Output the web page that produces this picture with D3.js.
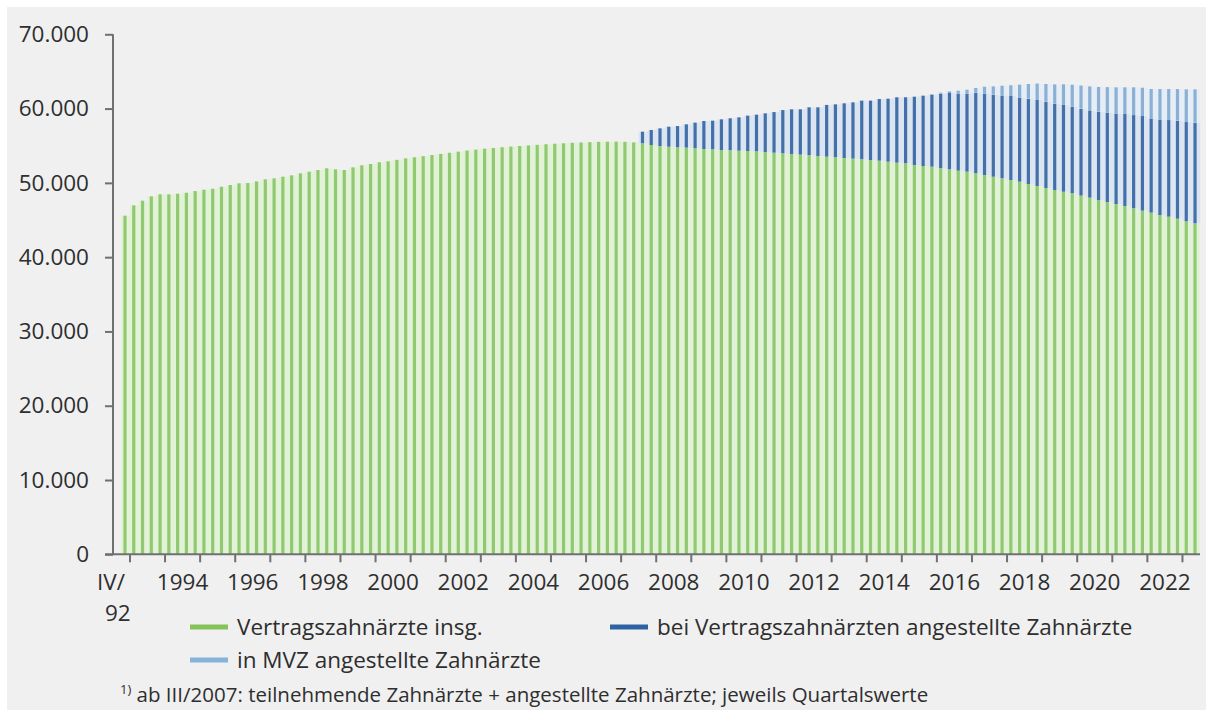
<!DOCTYPE html>
<html>
<head>
<meta charset="utf-8">
<script src="https://cdn.jsdelivr.net/npm/d3@7"></script>
<style>
  body { margin: 0; background: #fff; }
  svg text { font-family: "Open Sans", sans-serif; fill: #2e2e2e; }
</style>
</head>
<body>
<div id="chart"></div>
<script>
// Quartalswerte IV/1992 bis II/2023
var vertragszahnaerzte = [
  45580, 46980, 47600, 48190, 48460, 48460, 48540, 48670, 48900, 49080, 49210, 49480, 49710, 49940, 49980, 50200,
  50470, 50610, 50830, 51010, 51280, 51500, 51730, 51960, 51820, 51730, 52090, 52360, 52540, 52770, 52900,
  53100, 53300, 53450, 53600, 53750, 53900, 54050, 54200, 54350, 54480, 54600, 54700, 54800, 54880, 54960, 55040,
  55120, 55200, 55270, 55330, 55390, 55440, 55480, 55520, 55540, 55550, 55530, 55450,
  55320, 55100, 54960, 54870, 54780, 54740, 54650, 54560, 54510, 54420, 54380, 54330, 54290, 54240, 54150, 54060,
  53970, 53890, 53800, 53710, 53620, 53530, 53440, 53350, 53260, 53170, 53080, 52990, 52850, 52720,
  52630, 52400, 52270, 52180, 51960, 51820, 51640, 51510, 51280, 51060, 50830, 50610, 50390, 50160, 49850, 49580,
  49310, 49040, 48810, 48590, 48280, 48010, 47690, 47420, 47150, 46890, 46570, 46260, 45990, 45670, 45450, 45180,
  44820, 44550
];
// ab III/2007
var praxisAngestellte = [
  1570, 2020, 2380, 2690, 2870, 3140, 3460, 3770, 3860, 4130, 4310, 4490, 4760, 4940, 5210, 5470,
  5830, 6010, 6100, 6460, 6550, 6960, 7130, 7360, 7580, 7900, 7990, 8300, 8480, 8800,
  8890, 9200, 9470, 9690, 10050, 10280, 10410, 10540, 10860, 10990, 11040, 11170, 11310, 11350, 11490, 11580,
  11620, 11650, 11680, 11700, 11720, 11760, 11890, 12070, 12210, 12380, 12560, 12740, 12700, 12880, 13010, 13190,
  13370, 13550
];
// ab III/2015
var mvzAngestellte = [
  50, 90, 140, 220, 360, 490, 630, 900, 1120, 1300, 1440, 1710, 1970, 2200, 2380, 2560,
  2780, 2920, 3100, 3220, 3330, 3400, 3500, 3590, 3730, 3810, 3950, 4080, 4170, 4260, 4400, 4490
];
var yTicks = [0, 10000, 20000, 30000, 40000, 50000, 60000, 70000];
var yearLabels = [1994, 1996, 1998, 2000, 2002, 2004, 2006, 2008, 2010, 2012, 2014, 2016, 2018, 2020, 2022];
var legendLabels = ["Vertragszahnärzte insg.", "bei Vertragszahnärzten angestellte Zahnärzte", "in MVZ angestellte Zahnärzte"];

var roman = ["I", "II", "III", "IV"];
var quarters = ["IV/1992"];
for (var yr = 1993; quarters.length < vertragszahnaerzte.length; yr++) {
  for (var q = 0; q < 4 && quarters.length < vertragszahnaerzte.length; q++) quarters.push(roman[q] + "/" + yr);
}
var startPraxis = quarters.indexOf("III/2007");
var startMvz = quarters.indexOf("III/2015");

var data = quarters.map(function(k, i) {
  return {
    q: k,
    green: vertragszahnaerzte[i],
    dark: i >= startPraxis ? praxisAngestellte[i - startPraxis] : 0,
    light: i >= startMvz ? mvzAngestellte[i - startMvz] : 0
  };
});

var keys = ["green", "dark", "light"];
var stripeCol = { green: "#90c972", dark: "#4470aa", light: "#8cb0d3" };
var paleCol = { green: "#e2f2d6", dark: "#dbe5f1", light: "#e5edf6" };
var legendCol = ["#84c35b", "#2f62a3", "#86b3da"];

var width = 1206, height = 710;
var svg = d3.select("#chart").append("svg")
    .attr("width", width)
    .attr("height", height);

svg.append("rect").attr("x", 7).attr("y", 7).attr("width", width - 7).attr("height", height - 7)
    .attr("fill", "#f0f0f0");

var x = d3.scaleBand().domain(quarters).range([121.2, 1200]).padding(0);
var y = d3.scaleLinear().domain([0, 70000]).range([554.3, 34.3]);

var stack = d3.stack().keys(keys)(data);

var layers = svg.selectAll(".layer")
  .data(stack)
  .enter().append("g")
    .attr("class", "layer");

// heller Hintergrund je Quartal
layers.selectAll(".pale")
  .data(function(d) { return d.map(function(p) { p.key = d.key; return p; }); })
  .enter().append("rect")
    .attr("x", function(d) { return x(d.data.q); })
    .attr("width", x.bandwidth() + 0.2)
    .attr("y", function(d) { return y(d[1]); })
    .attr("height", function(d) { return Math.max(0, y(d[0]) - y(d[1])); })
    .attr("fill", function(d) { return paleCol[d.key]; });

// Balkenstreifen
layers.selectAll(".stripe")
  .data(function(d) { return d; })
  .enter().append("rect")
    .attr("x", function(d) { return x(d.data.q) + 2.2; })
    .attr("width", 3.2)
    .attr("y", function(d) { return y(d[1]); })
    .attr("height", function(d) { return Math.max(0, y(d[0]) - y(d[1])); })
    .attr("fill", function(d) { return stripeCol[d.key]; });

// y-Achse
var de = d3.formatLocale({ decimal: ",", thousands: ".", grouping: [3], currency: ["", " €"] });
var yAxis = svg.append("g")
    .attr("transform", "translate(113,0)")
    .call(d3.axisLeft(y).tickValues(yTicks).tickSize(8).tickPadding(16).tickFormat(de.format(",")));
yAxis.select(".domain").remove();
yAxis.append("line").attr("x1", 0).attr("x2", 0).attr("y1", y(70000)).attr("y2", y(0))
    .attr("stroke", "#707070").attr("stroke-width", 2);
yAxis.selectAll(".tick line").attr("stroke", "#707070").attr("stroke-width", 2);
yAxis.selectAll(".tick text").attr("font-size", 22.5).style("fill", "#2e2e2e");

// x-Achse
var xAxis = svg.append("g");
xAxis.append("line").attr("x1", 105).attr("x2", 1200).attr("y1", y(0)).attr("y2", y(0))
    .attr("stroke", "#707070").attr("stroke-width", 2);
var yearStarts = quarters.filter(function(k) { return k.indexOf("I/") === 0; });
xAxis.selectAll(".xt")
  .data(yearStarts)
  .enter().append("line")
    .attr("x1", function(d) { return x(d); })
    .attr("x2", function(d) { return x(d); })
    .attr("y1", y(0))
    .attr("y2", y(0) + 8)
    .attr("stroke", "#707070").attr("stroke-width", 2);
xAxis.selectAll(".xl")
  .data(yearLabels)
  .enter().append("text")
    .attr("x", function(d) { return x("I/" + d) + 2 * x.step(); })
    .attr("y", 590)
    .attr("text-anchor", "middle")
    .attr("font-size", 22.5)
    .text(function(d) { return d; });
xAxis.append("text").attr("x", 97).attr("y", 590).attr("font-size", 22.5).text("IV/");
xAxis.append("text").attr("x", 105).attr("y", 621).attr("font-size", 22.5).text("92");

// Legende
var legendPos = [[190, 627], [610, 627], [190, 660]];
var legend = svg.selectAll(".legend")
  .data(legendLabels)
  .enter().append("g")
    .attr("transform", function(d, i) { return "translate(" + legendPos[i][0] + "," + legendPos[i][1] + ")"; });
legend.append("line").attr("x1", 0).attr("x2", 38).attr("y1", 0).attr("y2", 0)
    .attr("stroke", function(d, i) { return legendCol[i]; }).attr("stroke-width", 5);
legend.append("text").attr("x", 47).attr("y", 8).attr("font-size", 22.5)
    .text(function(d) { return d; });

// Fußnote
var fn = svg.append("text").attr("x", 120).attr("y", 702).attr("font-size", 20.5);
fn.append("tspan").attr("font-size", 13).attr("dy", -8).text("1)");
fn.append("tspan").attr("dy", 8).text(" ab III/2007: teilnehmende Zahnärzte + angestellte Zahnärzte;  jeweils Quartalswerte");
</script>
</body>
</html>
